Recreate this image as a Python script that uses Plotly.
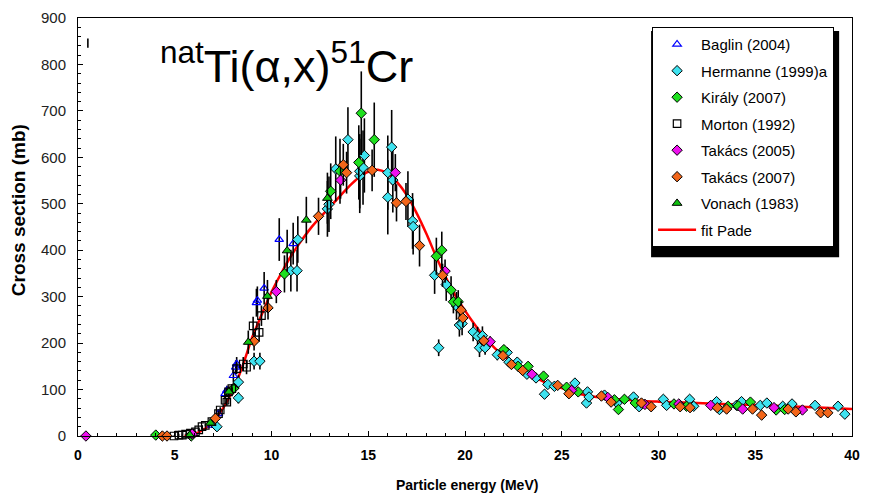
import plotly.graph_objects as go

# ---------------- data ----------------
baglin_E = [6.92, 7.26, 7.60, 7.69, 8.03, 8.15, 8.20, 9.22, 9.27, 9.62, 10.40, 11.12]
baglin_s = [23, 48, 91, 98, 130, 148, 155, 287, 292, 318, 423, 414]
baglin_err = [6, 8, 10, 10, 15, 15, 15, 30, 30, 35, 46, 45]

herm_E = [7.18, 8.29, 8.29, 9.10, 9.40, 11.00, 11.32, 11.36, 12.89, 12.97, 13.32, 13.95,
          14.56, 14.56, 14.73, 14.80, 16.01, 16.01, 16.21, 16.27, 17.05, 17.29, 17.32,
          18.43, 18.64, 19.03, 19.56, 19.71, 19.85, 20.42, 20.65, 20.75, 20.90, 21.04,
          21.67, 22.18, 22.27, 22.70, 23.20, 23.67, 24.11, 24.28, 24.62, 25.68, 26.28,
          26.33, 26.41, 27.21, 27.86, 28.71, 29.00, 30.25, 30.42, 31.61, 31.82, 33.00,
          33.15, 34.03, 34.29, 35.26, 35.60, 36.42, 36.90, 38.09, 39.28, 39.63]
herm_s = [20, 82, 116, 161, 161, 356, 356, 423, 489, 499, 575, 638,
          560, 570, 578, 604, 514, 567, 622, 551, 510, 463, 451,
          346, 190, 326, 280, 239, 242, 224, 215, 190, 216, 190,
          175, 180, 159, 159, 133, 125, 90, 111, 107, 114, 71,
          95, 84, 88, 71, 84, 63, 79, 66, 79, 64, 74,
          57, 66, 74, 66, 71, 64, 69, 66, 64, 47]
herm_err = [6, 12, 15, 18, 18, 45, 45, 50, 60, 60, 70, 70,
            80, 80, 80, 80, 80, 80, 80, 70, 60, 60, 60,
            40, 18, 35, 30, 25, 25, 20, 20, 20, 20, 15,
            12, 10, 10, 10, 8, 8, 6, 6, 6, 6, 5,
            5, 5, 5, 5, 5, 5, 5, 5, 5, 5, 5,
            5, 5, 5, 5, 5, 5, 5, 5, 5, 5]

kir_E = [4.02, 5.85, 8.03, 10.67, 13.06, 13.54, 14.51, 14.64, 15.31, 18.52, 18.80, 19.28,
         19.40, 19.65, 22.01, 22.74, 23.26, 24.06, 25.25, 25.85, 27.72, 27.93, 28.24,
         28.80, 30.80, 31.45, 33.60, 34.12, 34.75, 36.08, 36.52]
kir_s = [2, 0, 102, 349, 527, 570, 589, 695, 638, 387, 400, 314,
         289, 289, 186, 150, 150, 129, 105, 95, 78, 57, 79,
         71, 69, 64, 64, 65, 73, 56, 57]
kir_err = [2, 2, 12, 40, 60, 70, 80, 90, 80, 40, 40, 30,
           25, 25, 10, 8, 8, 6, 5, 5, 5, 5, 5,
           5, 5, 5, 5, 5, 5, 5, 5]

mort_E = [4.96, 5.22, 5.39, 5.56, 5.81, 6.07, 6.24, 6.41, 6.58, 6.92, 7.26, 7.35,
          7.60, 7.69, 7.78, 7.95, 8.20, 8.54, 8.71, 9.05, 9.36, 9.48]
mort_s = [0, 2, 2, 4, 6, 9, 13, 20, 23, 31, 48, 56,
          77, 73, 95, 102, 145, 155, 148, 237, 223, 259]
mort_err = [1, 1, 1, 1, 2, 2, 2, 3, 3, 4, 5, 6,
            8, 8, 10, 10, 12, 15, 15, 20, 20, 22]

tak05_E = [0.41, 5.90, 10.25, 13.57, 16.40, 18.97, 21.30, 23.46, 25.51, 27.38, 29.30,
           31.05, 32.70, 34.35, 35.97, 37.44]
tak05_s = [0, 4, 311, 551, 567, 355, 203, 133, 98, 83, 68, 69, 66, 58, 61, 56]
tak05_err = [0, 2, 25, 40, 40, 25, 12, 6, 5, 5, 5, 5, 5, 5, 5, 5]

tak07_E = [4.36, 4.60, 7.10, 9.10, 9.82, 12.43, 13.71, 13.88, 15.20, 16.46, 16.95, 17.65,
           18.84, 19.80, 19.89, 20.97, 21.96, 22.40, 22.98, 24.79, 25.37, 27.05, 27.55,
           29.12, 29.62, 31.12, 31.63, 33.04, 33.52, 34.86, 35.33, 36.70, 37.10, 38.38, 38.75]
tak07_s = [0, 0, 38, 204, 276, 473, 584, 567, 572, 502, 505, 410,
           346, 271, 254, 205, 173, 154, 141, 109, 91, 86, 73,
           71, 63, 63, 61, 61, 58, 58, 45, 58, 52, 50, 50]
tak07_err = [1, 1, 6, 20, 25, 40, 45, 45, 45, 40, 40, 45,
             25, 20, 20, 12, 10, 8, 8, 6, 5, 5, 5,
             5, 5, 5, 5, 5, 5, 5, 5, 5, 5, 5, 5]

von_E = [5.78, 6.84, 7.80, 8.80, 9.79, 10.81, 11.80, 12.89]
von_s = [2, 28, 95, 202, 301, 399, 465, 512]
von_err = [2, 5, 12, 25, 35, 45, 50, 55]

stray_E = [0.51]
stray_s = [846]
stray_err = [10]

fit_E = [5.5, 6.0, 6.5, 7.0, 7.5, 8.0, 8.5, 9.0, 9.5, 10.0, 10.5, 11.0, 11.5, 12.0, 12.5,
         13.0, 13.5, 14.0, 14.5, 15.0, 15.5, 16.0, 16.5, 17.0, 17.5, 18.0, 18.5, 19.0,
         19.5, 20.0, 20.5, 21.0, 21.5, 22.0, 23.0, 24.0, 25.0, 26.0, 27.0, 28.0, 29.0,
         30.0, 32.0, 34.0, 36.0, 38.0, 40.0]
fit_s = [0, 4, 14, 32, 60, 98, 150, 212, 262, 310, 350, 387, 418, 446, 470,
         492, 515, 537, 556, 569, 573, 565, 546, 518, 480, 436, 387, 342,
         303, 270, 240, 213, 191, 172, 142, 118, 103, 90, 83, 79, 76,
         74, 71, 68, 65, 62, 58]

FONT = "Liberation Sans, Arial, sans-serif"

fig = go.Figure()

fig.add_trace(go.Scatter(x=fit_E, y=fit_s, mode="lines", name="fit Pade",
                         line=dict(color="#FF0000", width=2.5, shape="spline"),
                         legendrank=1000, legendgroup="g8"))


def err(a):
    return dict(type="data", array=a, color="black", thickness=1.6, width=0)


series = [
    ("Baglin (2004)", baglin_E, baglin_s, baglin_err,
     dict(symbol="triangle-up-open", size=7.5, color="#0000FF", line=dict(color="#0000FF", width=1.2)), "g1"),
    ("Hermanne (1999)a", herm_E, herm_s, herm_err,
     dict(symbol="diamond", size=8, color="#3FE3F0", line=dict(color="black", width=1)), "g2"),
    ("Király (2007)", kir_E, kir_s, kir_err,
     dict(symbol="diamond", size=8, color="#1EE01E", line=dict(color="black", width=1)), "g3"),
    ("Morton (1992)", mort_E, mort_s, mort_err,
     dict(symbol="square-open", size=7.5, color="black", line=dict(color="black", width=1.2)), "g4"),
    ("Takács (2005)", tak05_E, tak05_s, tak05_err,
     dict(symbol="diamond", size=8, color="#EE10EE", line=dict(color="black", width=1)), "g5"),
    ("Takács (2007)", tak07_E, tak07_s, tak07_err,
     dict(symbol="diamond", size=8, color="#F2661A", line=dict(color="black", width=1)), "g6"),
    ("Vonach (1983)", von_E, von_s, von_err,
     dict(symbol="triangle-up", size=8.5, color="#10C010", line=dict(color="black", width=1)), "g7"),
]

for i, (name, xs, ys, es, mk, grp) in enumerate(series):
    fig.add_trace(go.Scatter(x=xs, y=ys, mode="markers", name=name, marker=mk,
                             error_y=err(es), cliponaxis=False,
                             legendrank=i + 1, legendgroup=grp))

fig.add_trace(go.Scatter(x=stray_E, y=stray_s, mode="markers", showlegend=False,
                         marker=dict(size=1, color="rgba(0,0,0,0)"),
                         error_y=err(stray_err)))

W, H = 869, 494
L, R, T, B = 78, 9, 15, 58
pw, ph = W - L - R, H - T - B


def px_x(p):
    return (p - L) / pw


def px_y(p):
    return (H - B - p) / ph


# legend shadow
fig.add_shape(type="rect", xref="paper", yref="paper",
              x0=px_x(657), x1=px_x(847), y0=px_y(256), y1=px_y(28),
              fillcolor="black", line=dict(width=0), layer="above")

fig.update_layout(
    width=W, height=H,
    margin=dict(l=L, r=R, t=T, b=B),
    paper_bgcolor="white", plot_bgcolor="white",
    font=dict(family=FONT, size=13, color="black"),
    showlegend=True,
    legend=dict(x=px_x(658), y=px_y(24), xanchor="left", yanchor="top",
                bgcolor="white", bordercolor="black", borderwidth=1,
                font=dict(family=FONT, size=15, color="black"),
                traceorder="grouped", tracegroupgap=4,
                itemwidth=38),
    xaxis=dict(range=[0, 40], tick0=0, dtick=5, ticks="inside", ticklen=5,
               tickcolor="black", showline=True, linecolor="black", linewidth=1,
               mirror=True, showgrid=False, zeroline=False,
               minor=dict(dtick=1, ticks="inside", ticklen=3, tickcolor="black"),
               tickfont=dict(family=FONT, size=14, color="black", weight="bold"),
               ticklabelstandoff=6),
    yaxis=dict(range=[0, 900], tick0=0, dtick=100, ticks="inside", ticklen=5,
               tickcolor="black", showline=True, linecolor="black", linewidth=1,
               mirror=True, showgrid=False, zeroline=False,
               minor=dict(dtick=20, ticks="inside", ticklen=3, tickcolor="black"),
               tickfont=dict(family=FONT, size=15, color="#222"),
               ticklabelstandoff=8),
    annotations=[
        dict(text="<sup>nat</sup>Ti(α,x)<sup>51</sup>Cr", xref="paper", yref="paper",
             x=px_x(159), y=px_y(60), xanchor="left", yanchor="middle", showarrow=False,
             font=dict(family=FONT, size=45, color="black")),
        dict(text="<b>Particle energy (MeV)</b>", xref="paper", yref="paper",
             x=px_x(471), y=px_y(485), xanchor="center", yanchor="middle", showarrow=False,
             font=dict(family=FONT, size=14, color="black")),
        dict(text="<b>Cross section (mb)</b>", xref="paper", yref="paper",
             x=px_x(18), y=px_y(209), xanchor="center", yanchor="middle", showarrow=False,
             textangle=-90, font=dict(family=FONT, size=19, color="black")),
    ],
)

fig.write_html("out.html")
